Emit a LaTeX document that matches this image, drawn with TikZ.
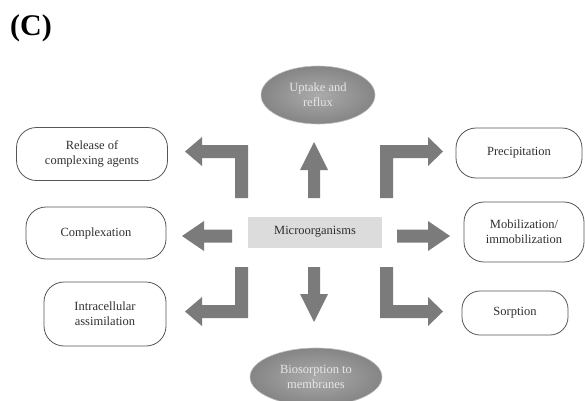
\documentclass[tikz,border=0pt]{standalone}
\usepackage{fontspec}
\setmainfont{Liberation Serif}
\usetikzlibrary{shapes.geometric}
\definecolor{arrowgray}{HTML}{7B7B7B}
\definecolor{boxline}{HTML}{555555}
\definecolor{boxtext}{HTML}{2E2E2E}
\definecolor{midfill}{HTML}{DCDCDC}
\definecolor{ovaltext}{HTML}{E6E6E6}
\definecolor{ovalin}{HTML}{ABABAB}
\definecolor{ovalout}{HTML}{858585}
\definecolor{ovalline}{HTML}{BDBDBD}
\begin{document}
\begin{tikzpicture}[x=1pt,y=-1pt,
  paneltag/.style={font=\fontsize{30}{32}\selectfont\bfseries, text=black},
  pillbox/.style={draw=boxline, line width=0.8pt, rounded corners=20pt, align=center,
     text=boxtext, font=\fontsize{12.5}{15}\selectfont, inner sep=0pt},
  oval/.style={ellipse, draw=ovalline, line width=0.6pt, shade, inner color=ovalin, outer color=ovalout,
     align=center, text=ovaltext, font=\fontsize{12.5}{15}\selectfont, inner sep=0pt},
  centerbox/.style={fill=midfill, align=center, text=boxtext, font=\fontsize{12.5}{15}\selectfont, inner sep=0pt},
  blockarrow/.style={fill=arrowgray, draw=none}
]
\useasboundingbox (0,0) rectangle (585,400);
\clip (0,0) rectangle (585,400);

\node[paneltag] (tag) at (31,28) {(C)};

\node[oval, minimum width=114pt, minimum height=58pt] (uptake) at (318,95) {Uptake and\\reflux};
\node[oval, minimum width=132pt, minimum height=58pt] (bios) at (316,377) {Biosorption to\\membranes};

\node[centerbox, minimum width=134pt, minimum height=31pt] (micro) at (315,232) {Microorganisms};

\node[pillbox, minimum width=151pt, minimum height=53pt] (release) at (92,154) {Release of\\complexing agents};
\node[pillbox, minimum width=140pt, minimum height=52pt] (complex) at (96,233) {Complexation};
\node[pillbox, minimum width=122pt, minimum height=64pt] (intra) at (105,314) {Intracellular\\assimilation};
\node[pillbox, minimum width=126pt, minimum height=50pt] (precip) at (519,153) {Precipitation};
\node[pillbox, minimum width=120pt, minimum height=60pt] (mobil) at (524,232) {Mobilization/\\immobilization};
\node[pillbox, minimum width=106pt, minimum height=44pt, rounded corners=18pt] (sorp) at (515,313) {Sorption};

% top-left bent arrow
\fill[blockarrow] (248,198) -- (248,145) -- (202,145) -- (202,137) -- (185,151.5) -- (202,166) -- (202,158) -- (235,158) -- (235,198) -- cycle;
% up arrow
\fill[blockarrow] (308,198) -- (308,170) -- (300,170) -- (314,142) -- (328,170) -- (320,170) -- (320,198) -- cycle;
% top-right bent arrow
\fill[blockarrow] (380,198) -- (380,145) -- (428,145) -- (428,137) -- (443,151.5) -- (428,166) -- (428,158) -- (393,158) -- (393,198) -- cycle;
% middle left arrow
\fill[blockarrow] (232,229.5) -- (204,229.5) -- (204,221) -- (182,236) -- (204,251) -- (204,242.5) -- (232,242.5) -- cycle;
% middle right arrow
\fill[blockarrow] (397,229.5) -- (428,229.5) -- (428,221) -- (450,236) -- (428,251) -- (428,242.5) -- (397,242.5) -- cycle;
% bottom-left bent arrow
\fill[blockarrow] (235,267) -- (248,267) -- (248,318) -- (202,318) -- (202,326) -- (185,311.5) -- (202,297) -- (202,305) -- (235,305) -- cycle;
% down arrow
\fill[blockarrow] (308,267) -- (320,267) -- (320,294) -- (328,294) -- (314,322) -- (300,294) -- (308,294) -- cycle;
% bottom-right bent arrow
\fill[blockarrow] (380,267) -- (393,267) -- (393,305) -- (428,305) -- (428,297) -- (443,311.5) -- (428,326) -- (428,318) -- (380,318) -- cycle;
\end{tikzpicture}
\end{document}
